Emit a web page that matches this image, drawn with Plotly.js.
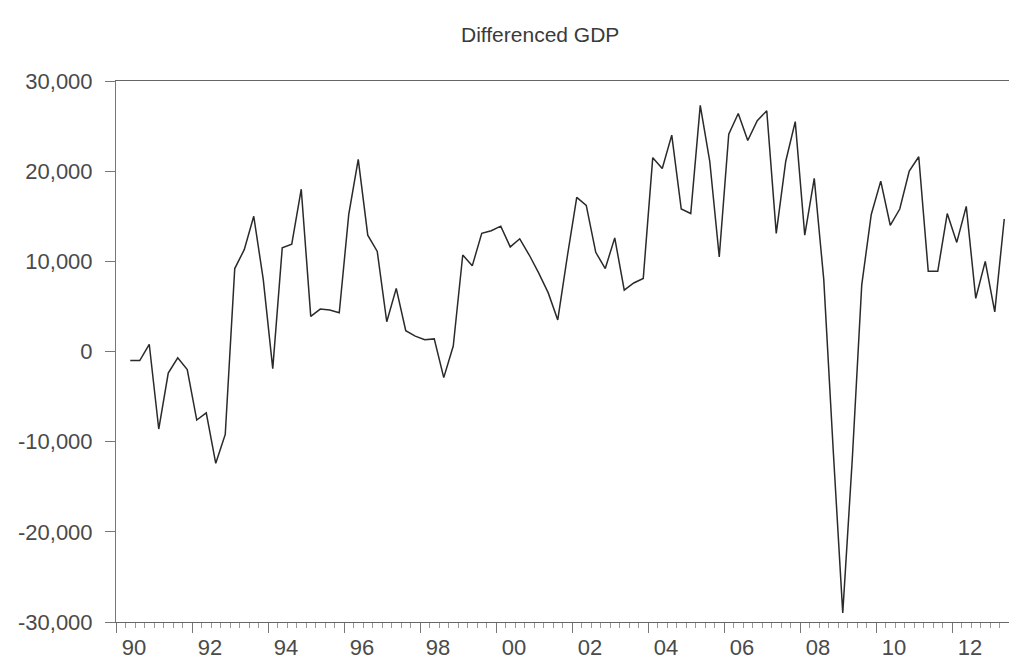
<!DOCTYPE html>
<html>
<head>
<meta charset="utf-8">
<script src="https://cdn.plot.ly/plotly-3.0.1.min.js"></script>
<style>
  html, body { margin: 0; padding: 0; background: #fff; }
  #chart { width: 1009px; height: 663px; }
</style>
</head>
<body>
<div id="chart"></div>
<script>
// Quarterly observations, 1990Q2 - 2013Q2
const quarters = [
  "1990Q2","1990Q3","1990Q4",
  "1991Q1","1991Q2","1991Q3","1991Q4",
  "1992Q1","1992Q2","1992Q3","1992Q4",
  "1993Q1","1993Q2","1993Q3","1993Q4",
  "1994Q1","1994Q2","1994Q3","1994Q4",
  "1995Q1","1995Q2","1995Q3","1995Q4",
  "1996Q1","1996Q2","1996Q3","1996Q4",
  "1997Q1","1997Q2","1997Q3","1997Q4",
  "1998Q1","1998Q2","1998Q3","1998Q4",
  "1999Q1","1999Q2","1999Q3","1999Q4",
  "2000Q1","2000Q2","2000Q3","2000Q4",
  "2001Q1","2001Q2","2001Q3","2001Q4",
  "2002Q1","2002Q2","2002Q3","2002Q4",
  "2003Q1","2003Q2","2003Q3","2003Q4",
  "2004Q1","2004Q2","2004Q3","2004Q4",
  "2005Q1","2005Q2","2005Q3","2005Q4",
  "2006Q1","2006Q2","2006Q3","2006Q4",
  "2007Q1","2007Q2","2007Q3","2007Q4",
  "2008Q1","2008Q2","2008Q3","2008Q4",
  "2009Q1","2009Q2","2009Q3","2009Q4",
  "2010Q1","2010Q2","2010Q3","2010Q4",
  "2011Q1","2011Q2","2011Q3","2011Q4",
  "2012Q1","2012Q2","2012Q3","2012Q4",
  "2013Q1","2013Q2"
];

const dGDP = [
  -1000, -1000, 800,
  -8600, -2400, -700, -2000,
  -7600, -6800, -12400, -9200,
  9200, 11300, 15000, 8000,
  -1900, 11500, 11900, 18000,
  3900, 4700, 4600, 4300,
  15200, 21300, 12900, 11100,
  3300, 7000, 2300, 1700,
  1300, 1400, -2900, 600,
  10700, 9500, 13100, 13400,
  13900, 11600, 12500, 10700,
  8700, 6500, 3500, 10500,
  17100, 16200, 11000, 9200,
  12600, 6800, 7600, 8100,
  21500, 20300, 24000, 15800,
  15300, 27300, 21100, 10500,
  24100, 26400, 23400, 25600,
  26700, 13100, 21100, 25500,
  12900, 19200, 8000, -11000,
  -29000, -12000, 7400, 15200,
  18900, 14000, 15800, 20000,
  21600, 8900, 8900, 15300,
  12100, 16100, 5900, 10000,
  4400, 14700
];

const xTickYears = [1990,1992,1994,1996,1998,2000,2002,2004,2006,2008,2010,2012];
const xTickText  = ["90","92","94","96","98","00","02","04","06","08","10","12"];
const yTickVals  = [-30000,-20000,-10000,0,10000,20000,30000];
const yTickText  = ["-30,000","-20,000","-10,000","0","10,000","20,000","30,000"];

// place each quarter in the middle of its quarter slot on a decimal-year scale
function qToX(q) {
  const y = parseInt(q.slice(0,4), 10);
  const n = parseInt(q.slice(5), 10);
  return y + (n - 1) / 4 + 0.125;
}
const xs = quarters.map(qToX);

const trace = {
  x: xs,
  y: dGDP,
  text: quarters,
  type: 'scatter',
  mode: 'lines',
  line: { color: '#2a2a2a', width: 1.5 },
  hovertemplate: '%{text}: %{y:,}<extra></extra>'
};

const tickFont = { family: 'Liberation Sans, Arial, sans-serif', size: 22, color: '#4a4a4a' };

const layout = {
  width: 1009,
  height: 663,
  margin: { l: 116, r: 0, t: 81, b: 41 },
  paper_bgcolor: '#ffffff',
  plot_bgcolor: '#ffffff',
  showlegend: false,
  title: {
    text: 'Differenced GDP',
    font: { family: 'Liberation Sans, Arial, sans-serif', size: 21, color: '#3a3a3a' },
    x: 0.475, xref: 'paper', xanchor: 'center',
    y: 1 - 35/663, yref: 'container', yanchor: 'middle'
  },
  xaxis: {
    range: [1990, 2013.5],
    tickmode: 'array',
    tickvals: xTickYears,
    ticktext: xTickText,
    ticks: 'outside',
    ticklen: 10,
    tickcolor: '#777',
    tickwidth: 1,
    ticklabelshift: 18,
    ticklabelstandoff: -4,
    tickfont: tickFont,
    minor: { tickmode: 'linear', tick0: 1990, dtick: 0.25, ticks: 'outside', ticklen: 5, tickcolor: '#999', tickwidth: 1, showgrid: false },
    showgrid: false,
    zeroline: false,
    showline: true,
    linecolor: '#666',
    linewidth: 1,
    mirror: true
  },
  yaxis: {
    range: [-30000, 30000],
    tickmode: 'array',
    tickvals: yTickVals,
    ticktext: yTickText,
    ticks: 'outside',
    ticklen: 10,
    tickcolor: '#777',
    tickwidth: 1,
    ticklabelstandoff: 8,
    tickfont: tickFont,
    showgrid: false,
    zeroline: false,
    showline: true,
    linecolor: '#777',
    linewidth: 1
  }
};

Plotly.newPlot('chart', [trace], layout, { displayModeBar: false, staticPlot: true });
</script>
</body>
</html>
